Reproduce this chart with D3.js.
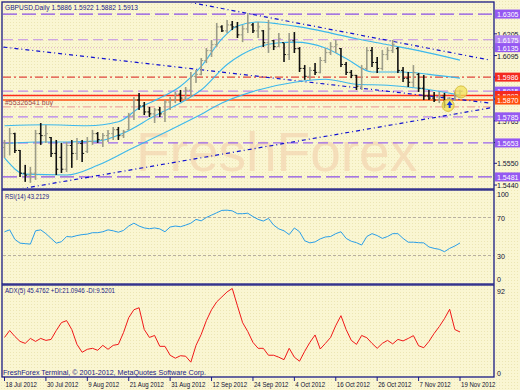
<!DOCTYPE html>
<html>
<head>
<meta charset="utf-8">
<script src="https://cdn.jsdelivr.net/npm/d3@7"></script>
<style>
body { margin: 0; background: #f9f5cf; }
svg text { font-family: "Liberation Sans", Arial, sans-serif; }
</style>
</head>
<body>
<script>
//chart data
var tickLabels = ["18 Jul 2012", "30 Jul 2012", "9 Aug 2012", "21 Aug 2012", "31 Aug 2012", "12 Sep 2012",
    "24 Sep 2012", "4 Oct 2012", "16 Oct 2012", "26 Oct 2012", "7 Nov 2012", "19 Nov 2012"];
var tickBars = [0, 8, 16, 24, 32, 40, 48, 56, 64, 72, 80, 88];

var opens = [1.5630,1.5650,1.5700,1.5615,1.5500,1.5490,1.5500,1.5700,1.5690,1.5680,1.5600,1.5580,1.5520,1.5640,1.5600,1.5650,
    1.5610,1.5660,1.5700,1.5670,1.5690,1.5700,1.5720,1.5690,1.5720,1.5790,1.5870,1.5840,1.5810,1.5800,1.5820,1.5800,
    1.5860,1.5870,1.5900,1.5880,1.5920,1.5990,1.6000,1.6070,1.6120,1.6150,1.6240,1.6220,1.6250,1.6240,1.6200,1.6230,
    1.6250,1.6220,1.6220,1.6160,1.6170,1.6140,1.6160,1.6100,1.6170,1.6130,1.6030,1.5990,1.6020,1.6010,1.6070,1.6110,
    1.6140,1.6130,1.6050,1.6010,1.5995,1.5940,1.6030,1.6120,1.6060,1.6030,1.6100,1.6120,1.6130,1.6020,1.5980,1.5960,
    1.6000,1.5930,1.5890,1.5880,1.5870,1.5890,1.5845,1.5870,1.5886];
var highs = [1.5668,1.5729,1.5705,1.5617,1.5542,1.5532,1.5719,1.5754,1.5744,1.5683,1.5668,1.5653,1.5658,1.5668,1.5678,1.5668,
    1.5683,1.5719,1.5708,1.5703,1.5719,1.5734,1.5734,1.5719,1.5805,1.5885,1.5906,1.5860,1.5835,1.5830,1.5835,1.5870,
    1.5885,1.5911,1.5921,1.5936,1.6012,1.6022,1.6083,1.6133,1.6174,1.6260,1.6249,1.6275,1.6270,1.6265,1.6249,1.6310,
    1.6260,1.6265,1.6224,1.6275,1.6174,1.6209,1.6158,1.6209,1.6214,1.6138,1.6047,1.6037,1.6057,1.6088,1.6133,1.6163,
    1.6174,1.6133,1.6062,1.6022,1.5997,1.6047,1.6138,1.6138,1.6088,1.6123,1.6138,1.6174,1.6138,1.6037,1.6012,1.6047,
    1.6007,1.5997,1.5921,1.5911,1.5911,1.5906,1.5885,1.5911,1.5922];
var lows = [1.5577,1.5590,1.5602,1.5481,1.5456,1.5451,1.5466,1.5643,1.5653,1.5582,1.5491,1.5501,1.5506,1.5527,1.5567,1.5557,
    1.5602,1.5643,1.5653,1.5633,1.5658,1.5668,1.5668,1.5678,1.5719,1.5769,1.5820,1.5794,1.5784,1.5754,1.5784,1.5759,
    1.5820,1.5855,1.5860,1.5870,1.5885,1.5956,1.5995,1.6057,1.6088,1.6140,1.6214,1.6209,1.6224,1.6184,1.6163,1.6209,
    1.6209,1.6184,1.6138,1.6108,1.6123,1.6138,1.6062,1.6072,1.6108,1.6012,1.5972,1.5972,1.5997,1.6005,1.6057,1.6098,
    1.6108,1.6037,1.5997,1.5981,1.5921,1.5921,1.6022,1.6037,1.6007,1.6020,1.6072,1.6108,1.6007,1.5961,1.5936,1.5936,
    1.5911,1.5870,1.5870,1.5860,1.5855,1.5830,1.5835,1.5865,1.5882];
var closes = [1.5650,1.5700,1.5615,1.5500,1.5490,1.5500,1.5700,1.5690,1.5700,1.5600,1.5520,1.5520,1.5640,1.5600,1.5650,1.5600,
    1.5660,1.5700,1.5670,1.5690,1.5700,1.5720,1.5690,1.5710,1.5790,1.5870,1.5840,1.5810,1.5800,1.5820,1.5800,1.5860,
    1.5870,1.5900,1.5880,1.5920,1.5990,1.6000,1.6070,1.6120,1.6150,1.6240,1.6220,1.6250,1.6240,1.6200,1.6230,1.6260,
    1.6220,1.6240,1.6160,1.6230,1.6140,1.6180,1.6100,1.6170,1.6130,1.6030,1.5990,1.6020,1.6010,1.6070,1.6110,1.6140,
    1.6150,1.6050,1.6010,1.5995,1.5940,1.6030,1.6120,1.6060,1.6030,1.6100,1.6120,1.6150,1.6020,1.5980,1.5960,1.6010,
    1.5930,1.5890,1.5880,1.5870,1.5890,1.5845,1.5870,1.5886,1.5913];

//moving average lines, [bar, price] read at intervals
var maUpper = [[0,1.5740],[8,1.5745],[16,1.5740],[22,1.5760],[26,1.5830],[30,1.5880],[34,1.5940],[38,1.6040],
    [42,1.6180],[45,1.6245],[49,1.6265],[53,1.6255],[57,1.6240],[62,1.6215],[68,1.6180],[74,1.6150],[80,1.6120],[88,1.6072]];
var maMiddle = [[0,1.5650],[6,1.5658],[12,1.5658],[18,1.5662],[23,1.5703],[29,1.5790],[35,1.5870],[38,1.5921],
    [43,1.6050],[49,1.6138],[53,1.6160],[56,1.6163],[62,1.6133],[66,1.6080],[71,1.6012],[77,1.6012],[82,1.6000],[88,1.5981]];
var maLower = [[0,1.5577],[4,1.5495],[12,1.5491],[18,1.5540],[24,1.5617],[32,1.5719],[37,1.5784],[42,1.5855],
    [49,1.5921],[56,1.5960],[62,1.5975],[68,1.5950],[74,1.5945],[80,1.5930],[88,1.5895]];

//trend lines, [bar, price] end points
var trendLines = [
    [[35.5, 1.6366], [93.8, 1.6072]],
    [[-0.2, 1.6138], [93.8, 1.5855]],
    [[3.0, 1.5420], [93.8, 1.5830]]
];

//horizontal levels on the price window
var levelPrices = [1.6305, 1.6175, 1.6135, 1.5986, 1.5835, 1.5915, 1.5893, 1.5870, 1.5785, 1.5653, 1.5481];
var levelLabels = ["1.6305", "1.6175", "1.6135", "1.5986", "", "1.5915", "1.5893", "1.5870", "1.5785", "1.5653", "1.5481"];
var priceTicks = [1.6205, 1.6095, 1.5986, 1.5875, 1.5765, 1.5655, 1.5550, 1.5440];

var rsiValues = [55,57,47,43,42.5,42,56,57,53,48,43,44.5,50,49.5,51,52,52.5,54,54,55,57,56,54.5,56.4,61,64,61,59,
    58.2,59,58,55,60,61,60.3,62,64,68,66.5,70,72.5,75,77.5,77.7,77,74,74,74.5,71,68,66.3,69,62,58,56,52,59,55,
    45.5,43.3,44.3,47.5,49.5,50,53,55,48,45,43.5,41,50,53,51,48,50,53,53,48,44,44,43.5,43.3,39,37.5,36.5,34,
    37.5,40,43.2];
var adxValues = [40,47,41,36,34,39,36,39,37,38,47,55,57,48,33,25,28,29,27,32,28,32,33,45,60,68,70,48,40,42,31,31,
    22,19,21.5,21,15,32,43,57,68,76,81,86,89.5,72,55,46,35,29,29,22,22,20,17.5,29,20,16,26,35,42.5,28.3,34,40,
    52,62,48,37,33,42,39.7,34,29,34,37,33.5,38,36.5,39,41.8,31.6,29.6,36,44,51,59,68.5,48,45.5];

//order line, arrow and highlight circles, [bar, price]
var orderMark = [86, 1.5850];
var circleMarks = [[88.2, 1.5911], [85.7, 1.5843]];

var width = 520,
    height = 390;

var svg = d3.select("body")
    .append("svg")
    .attr("width", width)
    .attr("height", height);

//squeeze a text to the narrow terminal font
function narrow(sel, factor){
    sel.each(function(){
        var w = this.getComputedTextLength();
        d3.select(this)
            .attr("textLength", w * factor)
            .attr("lengthAdjust", "spacingAndGlyphs");
    });
}

//background with a faint dot texture
var defs = svg.append("defs");
var pat = defs.append("pattern")
    .attr("id", "dots")
    .attr("width", 3)
    .attr("height", 3)
    .attr("patternUnits", "userSpaceOnUse");
pat.append("rect").attr("width", 3).attr("height", 3).attr("fill", "#faf6d2");
pat.append("rect").attr("x", 1).attr("y", 1).attr("width", 1).attr("height", 1).attr("fill", "#ece6b4");
svg.append("rect").attr("width", width).attr("height", height).attr("fill", "url(#dots)");

defs.append("clipPath").attr("id", "clipMain")
    .append("rect").attr("x", 3).attr("y", 3).attr("width", 490).attr("height", 185);

var navy = "#1b1b86";

//scales
var x = d3.scaleLinear().domain([0, 88]).range([4.5, 460]);
var yPrice = d3.scaleLinear().domain([1.5420, 1.6366]).range([189, 2]);
var yRsi = d3.scaleLinear().domain([0, 100]).range([284, 189]);
var yAdx = d3.scaleLinear().domain([0, 92]).range([377, 286]);

//watermark
svg.append("text")
    .attr("x", 136)
    .attr("y", 171)
    .attr("font-size", 55)
    .attr("fill", "#f3d6b2")
    .attr("fill-opacity", 0.75)
    .text("FreshForex");

var main = svg.append("g").attr("clip-path", "url(#clipMain)");

//level lines
var levelStyles = [
    {c: "#8a4fe6", d: "14,5", w: 1.2},
    {c: "#c08ae8", d: "10,5", w: 1.2},
    {c: "#e3bcc8", d: "1,2", w: 1.2},
    {c: "#e0463c", d: "8,3,2,3", w: 1.2},
    {c: "#f0a8a0", d: "8,3,2,3", w: 1.2},
    {c: "#c08ae8", d: "10,5", w: 1.2},
    {c: "#ff2a1a", d: null, w: 1.4},
    {c: "#ff5010", d: null, w: 1.4},
    {c: "#b27ff0", d: "10,5", w: 1.2},
    {c: "#9a66ee", d: "10,5", w: 1.2},
    {c: "#8a4fe6", d: "14,5", w: 1.2}
];
levelPrices.forEach(function(p, i){
    var st = levelStyles[i];
    main.append("line")
        .attr("x1", 3).attr("x2", 494)
        .attr("y1", yPrice(p)).attr("y2", yPrice(p))
        .attr("stroke", st.c)
        .attr("stroke-width", st.w)
        .attr("stroke-dasharray", st.d);
});

main.append("text")
    .attr("x", 5).attr("y", yPrice(levelPrices[4]) - 2)
    .attr("font-size", 8)
    .attr("fill", "#a04848")
    .attr("textLength", 48)
    .attr("lengthAdjust", "spacingAndGlyphs")
    .text("#55326541 buy");

//trend lines
trendLines.forEach(function(t){
    main.append("line")
        .attr("x1", x(t[0][0])).attr("y1", yPrice(t[0][1]))
        .attr("x2", x(t[1][0])).attr("y2", yPrice(t[1][1]))
        .attr("stroke", "#1010d0")
        .attr("stroke-width", 1.2)
        .attr("stroke-dasharray", "4,3,1,3");
});

//moving averages
var maLine = d3.line()
    .x(function(d){ return x(d[0]); })
    .y(function(d){ return yPrice(d[1]); })
    .curve(d3.curveMonotoneX);
[maUpper, maMiddle, maLower].forEach(function(s){
    main.append("path")
        .datum(s)
        .attr("d", maLine)
        .attr("fill", "none")
        .attr("stroke", "#3cb8ec")
        .attr("stroke-width", 1.1);
});

//price bars
var bars = main.selectAll(".bar")
    .data(d3.range(opens.length))
    .enter()
    .append("g")
    .attr("class", "bar")
    .attr("stroke", function(i){ return closes[i] >= opens[i] ? "#9c9c88" : "#111111"; })
    .attr("stroke-width", 1.6);
bars.append("line")
    .attr("x1", function(i){ return x(i); }).attr("x2", function(i){ return x(i); })
    .attr("y1", function(i){ return yPrice(highs[i]); })
    .attr("y2", function(i){ return yPrice(lows[i]); });
bars.append("line")
    .attr("x1", function(i){ return x(i) - 2; }).attr("x2", function(i){ return x(i); })
    .attr("y1", function(i){ return yPrice(opens[i]); })
    .attr("y2", function(i){ return yPrice(opens[i]); })
    .attr("stroke-width", 1);
bars.append("line")
    .attr("x1", function(i){ return x(i); }).attr("x2", function(i){ return x(i) + 2; })
    .attr("y1", function(i){ return yPrice(closes[i]); })
    .attr("y2", function(i){ return yPrice(closes[i]); })
    .attr("stroke-width", 1);

//highlight circles and buy arrow
circleMarks.forEach(function(c){
    main.append("circle")
        .attr("cx", x(c[0])).attr("cy", yPrice(c[1]))
        .attr("r", 6)
        .attr("fill", "#f2e25a")
        .attr("fill-opacity", 0.75)
        .attr("stroke", "#d8c040")
        .attr("stroke-width", 1);
});
main.append("path")
    .attr("transform", "translate(" + x(orderMark[0]) + "," + yPrice(orderMark[1]) + ")")
    .attr("d", "M0,-3L3,1L1,1L1,4L-1,4L-1,1L-3,1Z")
    .attr("fill", "#1030e0");

//header texts
svg.append("text").attr("x", 5).attr("y", 10).attr("font-size", 8).attr("fill", navy)
    .attr("textLength", 133).attr("lengthAdjust", "spacingAndGlyphs")
    .text("GBPUSD,Daily  1.5886 1.5922 1.5882 1.5913");

//price axis
var pTicks = svg.selectAll(".ptick")
    .data(priceTicks)
    .enter()
    .append("text")
    .attr("class", "ptick")
    .attr("x", 497)
    .attr("y", function(d){ return yPrice(d) + 3; })
    .attr("font-size", 8)
    .attr("fill", "#111133")
    .text(function(d){ return d.toFixed(4); });
narrow(pTicks, 0.88);
svg.selectAll(".ptickmark")
    .data(priceTicks)
    .enter()
    .append("line")
    .attr("x1", 494).attr("x2", 497)
    .attr("y1", function(d){ return yPrice(d); })
    .attr("y2", function(d){ return yPrice(d); })
    .attr("stroke", navy);

var boxColors = ["#9558f2", "#b384f2", "#9558f2", "#f4291f", null, "#9558f2", "#f4291f", "#ff4d0e", "#9558f2", "#9558f2", "#9558f2"];
levelPrices.forEach(function(p, i){
    if (!levelLabels[i]) return;
    var yy = yPrice(p);
    svg.append("rect")
        .attr("x", 495).attr("y", yy - 4.5)
        .attr("width", 25).attr("height", 9)
        .attr("fill", boxColors[i]);
    var t = svg.append("text")
        .attr("x", 497).attr("y", yy + 3)
        .attr("font-size", 8)
        .attr("fill", "#ffffff")
        .text(levelLabels[i]);
    narrow(t, 0.88);
});

//rsi window
svg.append("text").attr("x", 5).attr("y", 199).attr("font-size", 8).attr("fill", navy)
    .attr("textLength", 44).attr("lengthAdjust", "spacingAndGlyphs")
    .text("RSI(14) 43.2129");
[70, 30].forEach(function(v){
    svg.append("line")
        .attr("x1", 3).attr("x2", 494)
        .attr("y1", yRsi(v)).attr("y2", yRsi(v))
        .attr("stroke", "#b8b0a0")
        .attr("stroke-dasharray", "3,2");
});
svg.append("path")
    .datum(rsiValues)
    .attr("d", d3.line().x(function(d, i){ return x(i); }).y(function(d){ return yRsi(d); }))
    .attr("fill", "none")
    .attr("stroke", "#2a9ee8")
    .attr("stroke-width", 1);
[100, 70, 30, 0].forEach(function(v){
    var t = svg.append("text")
        .attr("x", 497)
        .attr("y", v == 100 ? yRsi(v) + 8 : (v == 0 ? yRsi(v) - 2 : yRsi(v) + 3))
        .attr("font-size", 8)
        .attr("fill", "#111133")
        .text(v);
    narrow(t, 0.88);
});

//adx window
svg.append("text").attr("x", 5).attr("y", 293).attr("font-size", 8).attr("fill", navy)
    .attr("textLength", 110).attr("lengthAdjust", "spacingAndGlyphs")
    .text("ADX(5) 45.4762 +DI:21.0946 -DI:9.5201");
svg.append("path")
    .datum(adxValues)
    .attr("d", d3.line().x(function(d, i){ return x(i); }).y(function(d){ return yAdx(d); }))
    .attr("fill", "none")
    .attr("stroke", "#f01818")
    .attr("stroke-width", 1);
narrow(svg.append("text").attr("x", 497).attr("y", yAdx(92) + 8).attr("font-size", 8).attr("fill", "#111133").text("92"), 0.88);
narrow(svg.append("text").attr("x", 497).attr("y", yAdx(0) - 1).attr("font-size", 8).attr("fill", "#111133").text("0"), 0.88);

svg.append("text").attr("x", 3).attr("y", 375).attr("font-size", 8).attr("fill", navy)
    .attr("textLength", 203).attr("lengthAdjust", "spacingAndGlyphs")
    .text("FreshForex Terminal, \u00a9 2001-2012, MetaQuotes Software Corp.");

//window frames
[[2, 2, 492, 187], [2, 190, 492, 94], [2, 285, 492, 92]].forEach(function(f){
    svg.append("rect")
        .attr("x", f[0]).attr("y", f[1])
        .attr("width", f[2]).attr("height", f[3])
        .attr("fill", "none")
        .attr("stroke", navy)
        .attr("stroke-width", 1.3);
});

//date axis
tickBars.forEach(function(b, i){
    svg.append("line")
        .attr("x1", x(b)).attr("x2", x(b))
        .attr("y1", 377).attr("y2", 381)
        .attr("stroke", navy);
    var t = svg.append("text")
        .attr("x", x(b) + 1).attr("y", 387)
        .attr("font-size", 8)
        .attr("fill", "#111133")
        .text(tickLabels[i]);
    narrow(t, 0.76);
});
</script>
</body>
</html>
